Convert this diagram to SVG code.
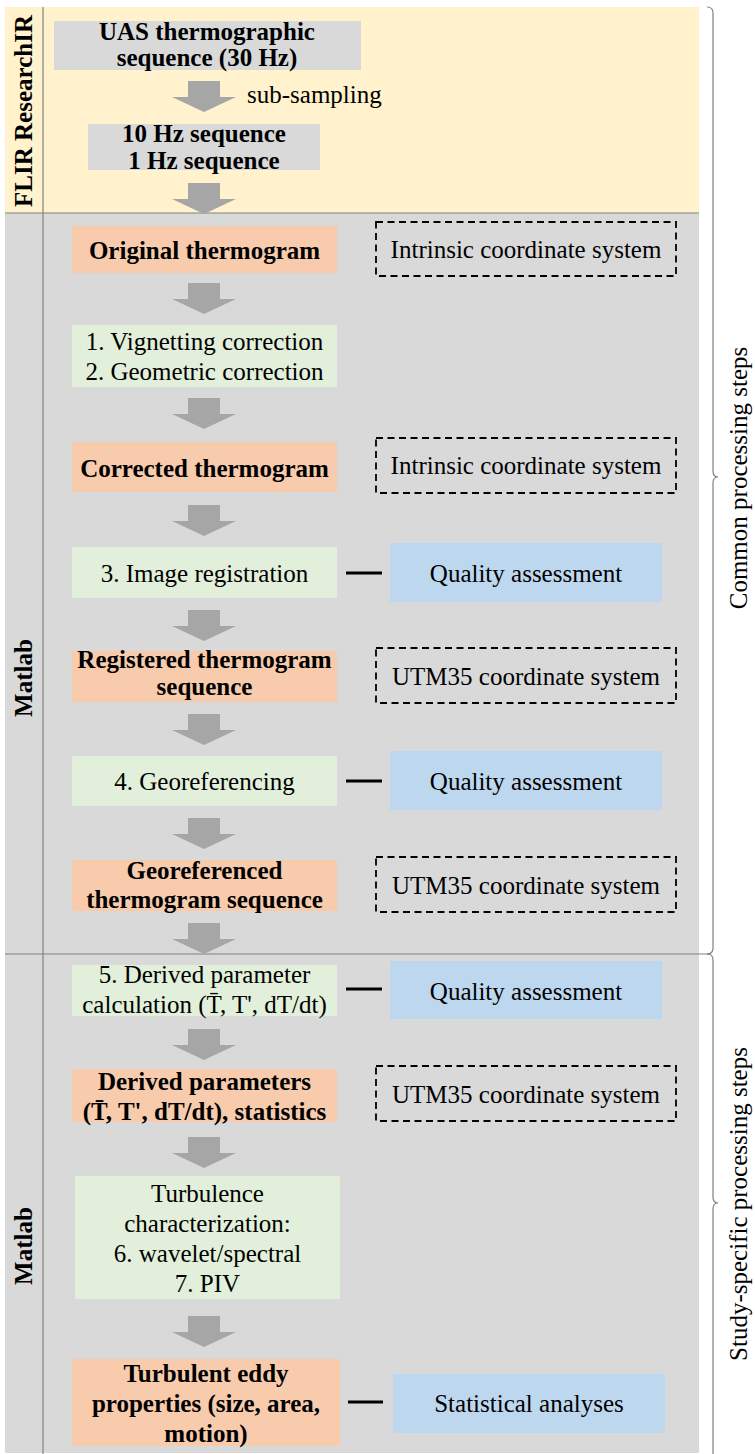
<svg xmlns="http://www.w3.org/2000/svg" xmlns:xlink="http://www.w3.org/1999/xlink" width="755" height="1454" viewBox="0 0 755 1454">
<style>
text{font-family:"Liberation Serif","Times New Roman",serif;font-size:25px;fill:#000}
.c{text-anchor:middle}
.b{font-weight:bold}
.orange{fill:#F8CBAD}
.green{fill:#E2EFDA}
.blue{fill:#BDD7EE}
.grey{fill:#D9D9D9}
.dash{fill:none;stroke:#000;stroke-width:1.8;stroke-dasharray:7 4.5}
.sep{stroke:#808080;stroke-width:1.2;fill:none}
.link{stroke:#000;stroke-width:3}
.brace{fill:none;stroke:#808080;stroke-width:1.2}
</style>
<defs>
<path id="arr" d="M-16,0 H16 V16 H32 L0,31 L-32,16 H-16 Z" fill="#A6A6A6"/>
</defs>

<g id="backgrounds">
<rect x="5" y="7" width="694" height="206" fill="#FFF2CC"/>
<rect x="5" y="213" width="694" height="1240" fill="#D9D9D9"/>
<line class="sep" x1="5" y1="213" x2="699" y2="213"/>
<line class="sep" x1="5" y1="954" x2="711" y2="954"/>
<line class="sep" x1="43" y1="7" x2="43" y2="1454"/>
</g>

<g id="lane-labels">
<text class="c b" transform="translate(32,111) rotate(-90)">FLIR ResearchIR</text>
<text class="c b" transform="translate(32,678) rotate(-90)">Matlab</text>
<text class="c b" transform="translate(32,1246) rotate(-90)">Matlab</text>
</g>

<g id="braces">
<path class="brace" d="M707,7 Q713,7 713,13 V471 Q713,477 718,477 Q713,477 713,483 V948 Q713,954 707,954"/>
<path class="brace" d="M707,954 Q713,954 713,960 V1197 Q713,1203 718,1203 Q713,1203 713,1209 V1454"/>
<text class="c" transform="translate(747,478) rotate(-90)">Common processing steps</text>
<text class="c" transform="translate(747,1204) rotate(-90)">Study-specific processing steps</text>
</g>

<g id="connectors">
<use xlink:href="#arr" x="204" y="81"/>
<use xlink:href="#arr" x="204" y="183"/>
<use xlink:href="#arr" x="204" y="283"/>
<use xlink:href="#arr" x="204" y="398"/>
<use xlink:href="#arr" x="204" y="505"/>
<use xlink:href="#arr" x="204" y="610"/>
<use xlink:href="#arr" x="204" y="714"/>
<use xlink:href="#arr" x="204" y="818"/>
<use xlink:href="#arr" x="204" y="923"/>
<use xlink:href="#arr" x="204" y="1029"/>
<use xlink:href="#arr" x="204" y="1137"/>
<use xlink:href="#arr" x="204" y="1316"/>
<line class="link" x1="346" y1="573" x2="382" y2="573"/>
<line class="link" x1="346" y1="781" x2="382" y2="781"/>
<line class="link" x1="346" y1="989" x2="382" y2="989"/>
<line class="link" x1="348" y1="1402" x2="383" y2="1402"/>
<text x="247" y="103">sub-sampling</text>
</g>

<g id="uas">
<rect class="grey" x="54" y="21" width="307" height="49"/>
<text class="c b" x="207" y="40">UAS thermographic</text>
<text class="c b" x="207" y="66">sequence (30 Hz)</text>
</g>
<g id="subsampled">
<rect class="grey" x="88" y="124" width="232" height="46"/>
<text class="c b" x="204" y="142">10 Hz sequence</text>
<text class="c b" x="204" y="169">1 Hz sequence</text>
</g>

<g id="original">
<rect class="orange" x="72" y="226" width="265" height="47"/>
<text class="c b" x="204.5" y="259">Original thermogram</text>
</g>
<g id="intrinsic1">
<rect class="dash" x="376" y="222" width="300" height="54"/>
<text class="c" x="526" y="258">Intrinsic coordinate system</text>
</g>
<g id="corrections">
<rect class="green" x="72" y="325" width="265" height="62"/>
<text class="c" x="204.5" y="350">1. Vignetting correction</text>
<text class="c" x="204.5" y="380">2. Geometric correction</text>
</g>
<g id="corrected">
<rect class="orange" x="72" y="442" width="265" height="50"/>
<text class="c b" x="204.5" y="477">Corrected thermogram</text>
</g>
<g id="intrinsic2">
<rect class="dash" x="376" y="438" width="300" height="55"/>
<text class="c" x="526" y="474">Intrinsic coordinate system</text>
</g>
<g id="registration">
<rect class="green" x="72" y="547" width="265" height="51"/>
<text class="c" x="204.5" y="582">3. Image registration</text>
</g>
<g id="quality1">
<rect class="blue" x="390" y="543" width="272" height="59"/>
<text class="c" x="526" y="582">Quality assessment</text>
</g>
<g id="registered">
<rect class="orange" x="72" y="651" width="265" height="51"/>
<text class="c b" x="204.5" y="668">Registered thermogram</text>
<text class="c b" x="204.5" y="695">sequence</text>
</g>
<g id="utm1">
<rect class="dash" x="376" y="648" width="300" height="55"/>
<text class="c" x="526" y="685">UTM35 coordinate system</text>
</g>
<g id="georeferencing">
<rect class="green" x="72" y="756" width="265" height="50"/>
<text class="c" x="204.5" y="790">4. Georeferencing</text>
</g>
<g id="quality2">
<rect class="blue" x="390" y="751" width="272" height="59"/>
<text class="c" x="526" y="790">Quality assessment</text>
</g>
<g id="georeferenced">
<rect class="orange" x="72" y="860" width="265" height="51"/>
<text class="c b" x="204.5" y="879">Georeferenced</text>
<text class="c b" x="204.5" y="908">thermogram sequence</text>
</g>
<g id="utm2">
<rect class="dash" x="376" y="857" width="300" height="55"/>
<text class="c" x="526" y="894">UTM35 coordinate system</text>
</g>
<g id="derivedcalc">
<rect class="green" x="72" y="965" width="265" height="51"/>
<text class="c" x="204.5" y="983">5. Derived parameter</text>
<text class="c" x="204.5" y="1013">calculation (T̄, T', dT/dt)</text>
</g>
<g id="quality3">
<rect class="blue" x="390" y="961" width="272" height="58"/>
<text class="c" x="526" y="1000">Quality assessment</text>
</g>
<g id="derived">
<rect class="orange" x="72" y="1069" width="265" height="53"/>
<text class="c b" x="204.5" y="1090">Derived parameters</text>
<text class="c b" x="204.5" y="1120">(T̄, T', dT/dt), statistics</text>
</g>
<g id="utm3">
<rect class="dash" x="376" y="1066" width="300" height="55"/>
<text class="c" x="526" y="1103">UTM35 coordinate system</text>
</g>
<g id="turbulence">
<rect class="green" x="75" y="1176" width="265" height="123"/>
<text class="c" x="207.5" y="1202">Turbulence</text>
<text class="c" x="207.5" y="1232">characterization:</text>
<text class="c" x="207.5" y="1262">6. wavelet/spectral</text>
<text class="c" x="207.5" y="1292">7. PIV</text>
</g>
<g id="eddies">
<rect class="orange" x="72" y="1359" width="268" height="87"/>
<text class="c b" x="206" y="1382">Turbulent eddy</text>
<text class="c b" x="206" y="1412">properties (size, area,</text>
<text class="c b" x="206" y="1442">motion)</text>
</g>
<g id="statistics">
<rect class="blue" x="393" y="1374" width="272" height="59"/>
<text class="c" x="529" y="1412">Statistical analyses</text>
</g>
</svg>
